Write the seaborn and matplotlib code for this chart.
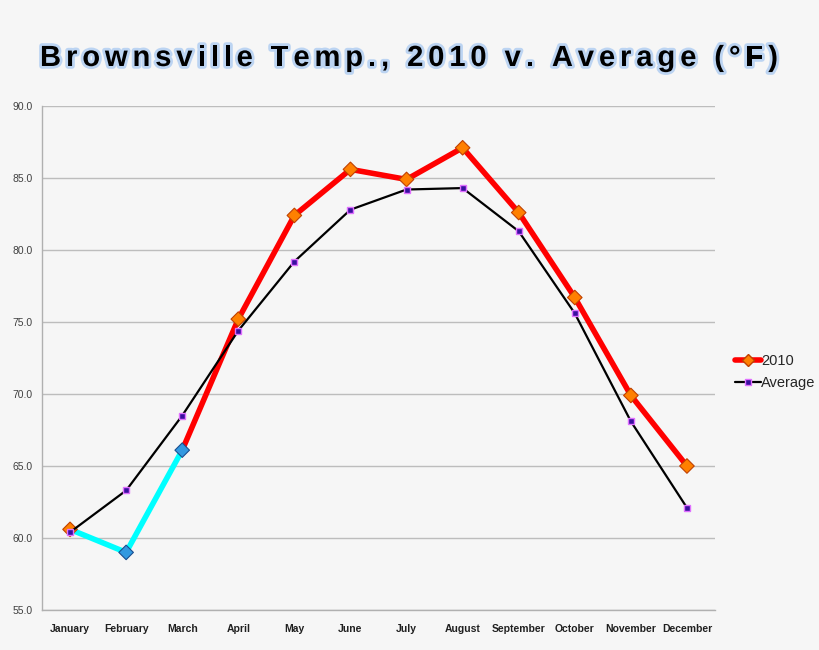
import numpy as np
import pandas as pd
import seaborn as sns
import matplotlib
matplotlib.use("Agg")
import matplotlib.pyplot as plt
import matplotlib.patheffects as pe
from matplotlib.lines import Line2D

months = ['January', 'February', 'March', 'April', 'May', 'June', 'July',
          'August', 'September', 'October', 'November', 'December']
temp_2010 = [60.6, 59.0, 66.1, 75.2, 82.4, 85.6, 84.9, 87.1, 82.6, 76.7, 69.9, 65.0]
temp_avg = [60.4, 63.3, 68.5, 74.4, 79.2, 82.8, 84.2, 84.3, 81.3, 75.6, 68.1, 62.1]
y_ticks = [55.0, 60.0, 65.0, 70.0, 75.0, 80.0, 85.0, 90.0]
title = 'Brownsville Temp., 2010 v. Average (°F)'

df = pd.DataFrame({'pos': np.arange(len(months)), 'month': months,
                   'y2010': temp_2010, 'avg': temp_avg})
below = df.iloc[:3]   # Jan-Mar, drawn in cyan
above = df.iloc[2:]

sns.set_style('white')
plt.rcParams['font.family'] = ['Liberation Sans', 'DejaVu Sans']
bg = '#f6f6f6'

fig = plt.figure(figsize=(8.2, 6.5), dpi=100, facecolor=bg)
ax = fig.add_axes([42 / 820, 40 / 650, 673 / 820, 504 / 650])
ax.set_facecolor(bg)

sns.lineplot(data=above, x='pos', y='y2010', ax=ax, color='#ff0000', lw=4, sort=False, zorder=3)
sns.lineplot(data=below, x='pos', y='y2010', ax=ax, color='#00ffff', lw=4, sort=False, zorder=3)
sns.lineplot(data=df, x='pos', y='avg', ax=ax, color='black', lw=1.6, sort=False, zorder=4,
             marker='s', markersize=5, markerfacecolor='#3a0fa0', markeredgecolor='#e070ff',
             markeredgewidth=1)

mcol = ['#ff8000' if i not in (1, 2) else '#3399e0' for i in range(len(months))]
ecol = ['#c04000' if i not in (1, 2) else '#1a4f90' for i in range(len(months))]
ax.scatter(df['pos'], df['y2010'], marker='D', s=55, c=mcol, edgecolors=ecol,
           linewidths=0.8, zorder=3.5)

ax.set_xlim(-0.5, 11.5)
ax.set_ylim(55, 90)
ax.set_yticks(y_ticks)
ax.set_yticklabels([f'{v:.1f}' for v in y_ticks], fontsize=7.5, color='#404040')
ax.set_xticks(df['pos'])
ax.set_xticklabels(months, fontsize=7.5, fontweight='bold', color='#202020')
ax.set_xticks(np.arange(-0.5, 12, 1), minor=True)
ax.tick_params(axis='x', which='major', length=0, pad=10)
ax.tick_params(axis='x', which='minor', length=4, color='#b0b0b0', width=1, direction='out')
ax.tick_params(axis='y', length=4, color='#b0b0b0', width=1, direction='out', pad=3)
ax.yaxis.grid(True, color='#bdbdbd', lw=1)
ax.set_axisbelow(True)
ax.set_xlabel('')
ax.set_ylabel('')
for s in ['top', 'right']:
    ax.spines[s].set_visible(False)
for s in ['left', 'bottom']:
    ax.spines[s].set_color('#b0b0b0')
    ax.spines[s].set_linewidth(1)

handles = [Line2D([], [], color='#ff0000', lw=4, marker='D', markersize=6,
                  markerfacecolor='#ff8000', markeredgecolor='#c04000'),
           Line2D([], [], color='black', lw=1.6, marker='s', markersize=5,
                  markerfacecolor='#3a0fa0', markeredgecolor='#e070ff')]
fig.legend(handles, ['2010', 'Average'], loc='center left', bbox_to_anchor=(722 / 820, 1 - 372 / 650),
           frameon=False, fontsize=10.5, handlelength=1.75, handletextpad=0.05, labelspacing=0.6)

# title drawn letter by letter to get the wide spacing
fs = 21
renderer = fig.canvas.get_renderer()
def text_w(s):
    t = fig.text(0, 0, s, fontsize=fs, fontweight='bold')
    w = t.get_window_extent(renderer).width
    t.remove()
    return w
space_w = text_w('x x') - text_w('xx')
widths = [space_w if c == ' ' else text_w(c) for c in title]
gap = (738 - sum(widths)) / (len(title) - 1)
x = 40.0
stroke = [pe.withStroke(linewidth=4, foreground='#bcd4f2')]
for c, w in zip(title, widths):
    if c != ' ':
        fig.text(x / 820, 1 - 66 / 650, c, fontsize=fs, fontweight='bold', color='black',
                 ha='left', va='baseline', path_effects=stroke)
    x += w + gap

fig.savefig('out.png', dpi=100, facecolor=bg)
